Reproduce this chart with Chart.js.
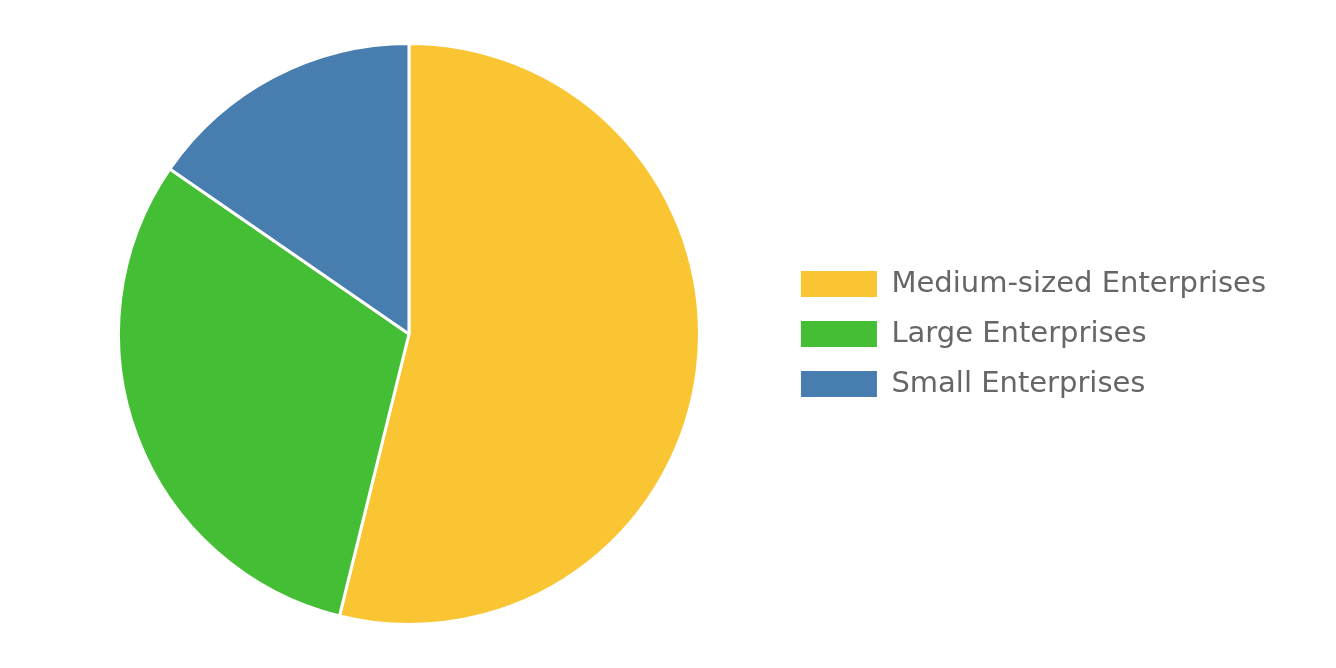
<!DOCTYPE html>
<html>
<head>
<meta charset="utf-8">
<script src="https://cdn.jsdelivr.net/npm/chart.js@4"></script>
<style>
html,body{margin:0;padding:0;background:#fff;}
#wrap{width:1336px;height:668px;}
</style>
</head>
<body>
<div id="wrap"><canvas id="c"></canvas></div>
<script>
const categories = ["Medium-sized Enterprises", "Large Enterprises", "Small Enterprises"];
const values = [35, 20, 10];
const colors = ["#FAC532", "#44BE34", "#487EAF"];

new Chart(document.getElementById('c'), {
  type: 'pie',
  data: {
    labels: categories,
    datasets: [{
      data: values,
      backgroundColor: colors,
      borderColor: '#ffffff',
      borderWidth: 3
    }]
  },
  options: {
    responsive: true,
    maintainAspectRatio: false,
    animation: false,
    layout: { padding: { top: 42, bottom: 42, left: 38, right: 60 } },
    plugins: {
      legend: {
        position: 'right',
        labels: {
          boxWidth: 76,
          boxHeight: 26,
          padding: 21,
          color: '#666666',
          font: { family: 'DejaVu Sans', size: 29 },
          generateLabels: (chart) => {
            const items = Chart.controllers.pie.overrides.plugins.legend.labels.generateLabels(chart);
            items.forEach(it => { it.lineWidth = 0; });
            return items;
          }
        }
      },
      tooltip: { enabled: false }
    }
  }
});
</script>
</body>
</html>
